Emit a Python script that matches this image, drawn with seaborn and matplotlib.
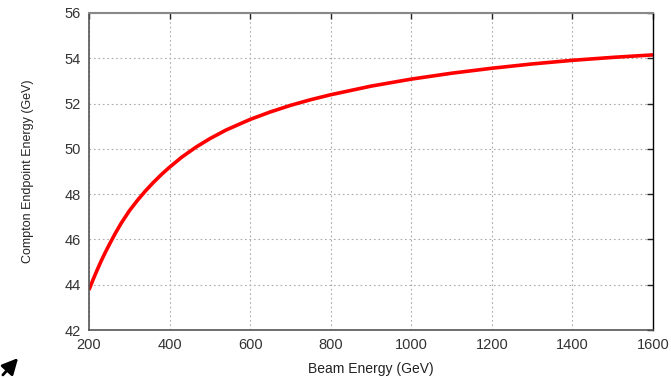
import matplotlib
matplotlib.use("Agg")
import matplotlib.pyplot as plt
import seaborn as sns
import pandas as pd

beam_energy = [200, 210, 220, 230, 240, 250, 265, 280, 300, 320, 340, 360, 380,
               400, 430, 465, 500, 540, 600, 650, 700, 750, 800, 900,
               1000, 1100, 1200, 1300, 1400, 1500, 1600]
endpoint_energy = [43.77, 44.22, 44.64, 45.04, 45.41, 45.76, 46.26, 46.72, 47.26,
                   47.72, 48.14, 48.52, 48.87, 49.19, 49.63, 50.07, 50.45, 50.83,
                   51.3, 51.63, 51.92, 52.17, 52.39, 52.77, 53.08, 53.34, 53.56,
                   53.75, 53.91, 54.04, 54.15]
x_ticks = [200, 400, 600, 800, 1000, 1200, 1400, 1600]
y_ticks = [42, 44, 46, 48, 50, 52, 54, 56]

sns.set_style("white")
plt.rcParams['font.family'] = ['Liberation Sans', 'DejaVu Sans']

df = pd.DataFrame({"beam": beam_energy, "endpoint": endpoint_energy})

fig = plt.figure(figsize=(6.71, 3.78), dpi=100)
ax = fig.add_axes([89/671, 48/378, 564/671, 317/378])
sns.lineplot(data=df, x="beam", y="endpoint", ax=ax, color="#ff0000",
             linewidth=2.6, solid_capstyle="butt", solid_joinstyle="round")

ax.set_xlim(200, 1600)
ax.set_ylim(42, 56)
ax.set_xticks(x_ticks)
ax.set_yticks(y_ticks)
ax.grid(True, color="#aaaaaa", linestyle=(0, (1.5, 2.5)), linewidth=0.8)
ax.tick_params(direction="in", length=4, width=1, colors="#222222",
               labelcolor="#333333", labelsize=10.5, top=True, right=True,
               pad=6)
ax.set_xlabel("Beam Energy (GeV)", fontsize=10, color="#222222", labelpad=7)
ax.set_ylabel("Compton Endpoint Energy (GeV)", fontsize=9, color="#222222", labelpad=22)
for side in ["left", "bottom"]:
    ax.spines[side].set_color("#555555")
    ax.spines[side].set_linewidth(1.2)
ax.spines["top"].set_color("#888888")
ax.spines["top"].set_linewidth(1.5)
ax.spines["right"].set_color("#000000")
ax.spines["right"].set_linewidth(1.0)

fig.add_artist(matplotlib.patches.FancyArrowPatch(
    (1, 378 - 377), (20, 378 - 356), transform=None,
    arrowstyle="-|>", mutation_scale=24, linewidth=2.0, color="black"))

fig.savefig("out.png", dpi=100)
